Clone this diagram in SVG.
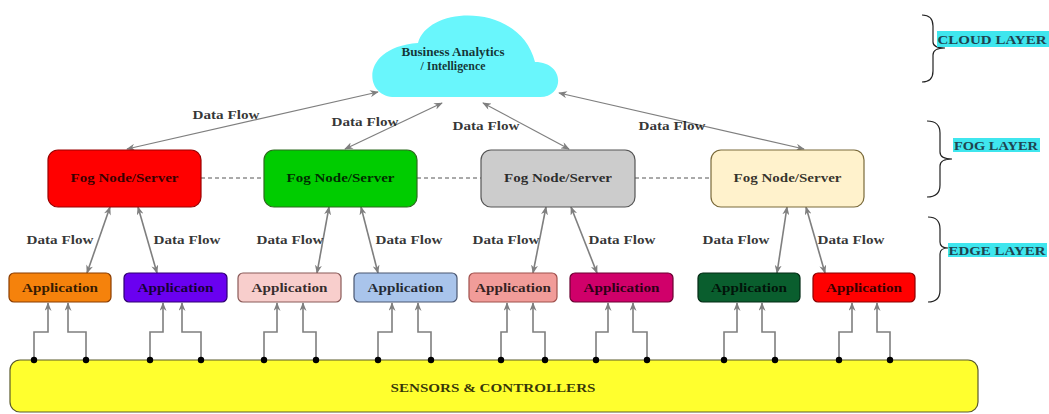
<svg xmlns="http://www.w3.org/2000/svg" width="1049" height="414" viewBox="0 0 1049 414">
<style>
text{font-family:"Liberation Serif","Times New Roman",serif;font-weight:bold;text-anchor:middle;fill:#000;fill-opacity:0.8;font-size:13px}
.lbl{font-size:13px}
.fog{stroke-width:1.2}
.app{stroke-width:1.2}
.flow{stroke:#7f7f7f;stroke-width:1.2;fill:none}
.flow2{stroke:#7f7f7f;stroke-width:1.6;fill:none}
.dash{stroke:#555;stroke-width:1;stroke-dasharray:4 3;fill:none}
.brace{stroke:#222;stroke-width:1.2;fill:none}
.layer{fill:#1e4450;fill-opacity:1}
</style>
<defs>
<marker id="ah" viewBox="0 0 10 8" refX="9" refY="4" markerWidth="9" markerHeight="7" markerUnits="userSpaceOnUse" orient="auto-start-reverse">
<path d="M0,0 L10,4 L0,8 L3,4 Z" fill="#7f7f7f"/>
</marker>
</defs>

<g id="cloud">
<path d="M395 97 C363 97 360 47 418 43 C428 5 520 2 535 62 C565 62 565 97 540 97 Z" fill="#69f6fc"/>
<text x="453" y="56" textLength="103" lengthAdjust="spacingAndGlyphs">Business Analytics</text>
<text x="453" y="70" textLength="65" lengthAdjust="spacingAndGlyphs">/ Intelligence</text>
</g>

<g id="layers">
<path class="brace" d="M922 15 Q933 15 933 26 L933 42 Q933 48 945 48 Q933 48 933 55 L933 71 Q933 82 922 82"/>
<rect x="937" y="31" width="112" height="16" fill="#3fe6ee"/>
<text class="layer" x="992" y="44" textLength="109" lengthAdjust="spacingAndGlyphs">CLOUD LAYER</text>
<path class="brace" d="M927 121 Q940 121 940 133 L940 152 Q940 159 952 159 Q940 159 940 166 L940 185 Q940 197 927 197"/>
<rect x="953" y="138" width="87" height="14" fill="#3fe6ee"/>
<text class="layer" x="996" y="150" textLength="84" lengthAdjust="spacingAndGlyphs">FOG LAYER</text>
<path class="brace" d="M928 217 Q940 217 940 229 L940 242 Q940 248 948 248 Q940 248 940 254 L940 290 Q940 302 928 302"/>
<rect x="948" y="243" width="99" height="14" fill="#3fe6ee"/>
<text class="layer" x="997" y="255" textLength="97" lengthAdjust="spacingAndGlyphs">EDGE LAYER</text>
</g>

<g id="connectors">
<path class="dash" d="M201 178 L264 178 M417 178 L481 178 M635 178 L711 178"/>
<path class="flow" d="M127 149 L378 92" marker-start="url(#ah)" marker-end="url(#ah)"/>
<path class="flow" d="M345 149 L442 103" marker-start="url(#ah)" marker-end="url(#ah)"/>
<path class="flow" d="M569 149 L483 103" marker-start="url(#ah)" marker-end="url(#ah)"/>
<path class="flow" d="M804 149 L559 93" marker-start="url(#ah)" marker-end="url(#ah)"/>
<path class="flow2" d="M110 207 L87 273" marker-start="url(#ah)" marker-end="url(#ah)"/>
<path class="flow2" d="M138 207 L157 273" marker-start="url(#ah)" marker-end="url(#ah)"/>
<path class="flow2" d="M329 207 L317 273" marker-start="url(#ah)" marker-end="url(#ah)"/>
<path class="flow2" d="M361 207 L378 273" marker-start="url(#ah)" marker-end="url(#ah)"/>
<path class="flow2" d="M546 207 L533 273" marker-start="url(#ah)" marker-end="url(#ah)"/>
<path class="flow2" d="M571 207 L597 273" marker-start="url(#ah)" marker-end="url(#ah)"/>
<path class="flow2" d="M787 207 L777 273" marker-start="url(#ah)" marker-end="url(#ah)"/>
<path class="flow2" d="M806 207 L825 273" marker-start="url(#ah)" marker-end="url(#ah)"/>
<g class="flow2" marker-end="url(#ah)">
<path d="M34 360 V332 H48 V303"/><path d="M86 360 V332 H68 V303"/>
<path d="M150 360 V332 H163 V303"/><path d="M201 360 V332 H182 V303"/>
<path d="M264 360 V332 H277 V303"/><path d="M316 360 V332 H303 V303"/>
<path d="M378 360 V332 H392 V303"/><path d="M431 360 V332 H418 V303"/>
<path d="M501 360 V332 H507 V303"/><path d="M545 360 V332 H533 V303"/>
<path d="M596 360 V332 H608 V303"/><path d="M647 360 V332 H633 V303"/>
<path d="M724 360 V332 H737 V303"/><path d="M775 360 V332 H762 V303"/>
<path d="M839 360 V332 H852 V303"/><path d="M890 360 V332 H877 V303"/>
</g>
<text class="lbl" x="226" y="119" textLength="67" lengthAdjust="spacingAndGlyphs">Data Flow</text>
<text class="lbl" x="365" y="126" textLength="67" lengthAdjust="spacingAndGlyphs">Data Flow</text>
<text class="lbl" x="486" y="130" textLength="67" lengthAdjust="spacingAndGlyphs">Data Flow</text>
<text class="lbl" x="672" y="130" textLength="67" lengthAdjust="spacingAndGlyphs">Data Flow</text>
<text class="lbl" x="60" y="244" textLength="67" lengthAdjust="spacingAndGlyphs">Data Flow</text>
<text class="lbl" x="187" y="244" textLength="67" lengthAdjust="spacingAndGlyphs">Data Flow</text>
<text class="lbl" x="290" y="244" textLength="67" lengthAdjust="spacingAndGlyphs">Data Flow</text>
<text class="lbl" x="409" y="244" textLength="67" lengthAdjust="spacingAndGlyphs">Data Flow</text>
<text class="lbl" x="506" y="244" textLength="67" lengthAdjust="spacingAndGlyphs">Data Flow</text>
<text class="lbl" x="622" y="244" textLength="67" lengthAdjust="spacingAndGlyphs">Data Flow</text>
<text class="lbl" x="736" y="244" textLength="67" lengthAdjust="spacingAndGlyphs">Data Flow</text>
<text class="lbl" x="851" y="244" textLength="67" lengthAdjust="spacingAndGlyphs">Data Flow</text>
</g>

<g id="fog1"><rect class="fog" x="48" y="150" width="153" height="57" rx="10" fill="#ff0000" stroke="#9a0000"/><text x="124.5" y="182" textLength="108" lengthAdjust="spacingAndGlyphs">Fog Node/Server</text></g>
<g id="fog2"><rect class="fog" x="264" y="150" width="153" height="57" rx="10" fill="#00cc00" stroke="#2d6a1e"/><text x="340.5" y="182" textLength="108" lengthAdjust="spacingAndGlyphs">Fog Node/Server</text></g>
<g id="fog3"><rect class="fog" x="481" y="150" width="154" height="57" rx="10" fill="#cccccc" stroke="#555555"/><text x="558" y="182" textLength="108" lengthAdjust="spacingAndGlyphs">Fog Node/Server</text></g>
<g id="fog4"><rect class="fog" x="711" y="150" width="153" height="57" rx="10" fill="#fff2cc" stroke="#7a6a3a"/><text x="787.5" y="182" textLength="108" lengthAdjust="spacingAndGlyphs">Fog Node/Server</text></g>

<g id="app1"><rect class="app" x="9" y="273" width="102" height="29" rx="5" fill="#f5820c" stroke="#8a3c00"/><text x="60" y="292" textLength="76" lengthAdjust="spacingAndGlyphs">Application</text></g>
<g id="app2"><rect class="app" x="124" y="273" width="103" height="29" rx="5" fill="#6a00f0" stroke="#2e0070"/><text x="175.5" y="292" textLength="76" lengthAdjust="spacingAndGlyphs">Application</text></g>
<g id="app3"><rect class="app" x="238" y="273" width="103" height="29" rx="5" fill="#f8cecc" stroke="#8a5a58"/><text x="289.5" y="292" textLength="76" lengthAdjust="spacingAndGlyphs">Application</text></g>
<g id="app4"><rect class="app" x="354" y="273" width="103" height="29" rx="5" fill="#a9c4eb" stroke="#4a5670"/><text x="405.5" y="292" textLength="76" lengthAdjust="spacingAndGlyphs">Application</text></g>
<g id="app5"><rect class="app" x="469" y="273" width="88" height="29" rx="5" fill="#f19c99" stroke="#a0504c"/><text x="513" y="292" textLength="76" lengthAdjust="spacingAndGlyphs">Application</text></g>
<g id="app6"><rect class="app" x="570" y="273" width="103" height="29" rx="5" fill="#d0006a" stroke="#6a0030"/><text x="621.5" y="292" textLength="76" lengthAdjust="spacingAndGlyphs">Application</text></g>
<g id="app7"><rect class="app" x="698" y="273" width="102" height="29" rx="5" fill="#0a5e2e" stroke="#032a14"/><text x="749" y="292" textLength="76" lengthAdjust="spacingAndGlyphs">Application</text></g>
<g id="app8"><rect class="app" x="813" y="273" width="102" height="29" rx="5" fill="#ff0000" stroke="#8a0000"/><text x="864" y="292" textLength="76" lengthAdjust="spacingAndGlyphs">Application</text></g>

<g id="sensors">
<rect x="10" y="360" width="968" height="52" rx="10" fill="#ffff2e" stroke="#5a5a2a" stroke-width="1.2"/>
<text x="493" y="392" textLength="205" lengthAdjust="spacingAndGlyphs">SENSORS &amp; CONTROLLERS</text>
<g fill="#000">
<circle cx="34" cy="360" r="3.2"/><circle cx="86" cy="360" r="3.2"/>
<circle cx="150" cy="360" r="3.2"/><circle cx="201" cy="360" r="3.2"/>
<circle cx="264" cy="360" r="3.2"/><circle cx="316" cy="360" r="3.2"/>
<circle cx="378" cy="360" r="3.2"/><circle cx="431" cy="360" r="3.2"/>
<circle cx="501" cy="360" r="3.2"/><circle cx="545" cy="360" r="3.2"/>
<circle cx="596" cy="360" r="3.2"/><circle cx="647" cy="360" r="3.2"/>
<circle cx="724" cy="360" r="3.2"/><circle cx="775" cy="360" r="3.2"/>
<circle cx="839" cy="360" r="3.2"/><circle cx="890" cy="360" r="3.2"/>
</g>
</g>
</svg>
